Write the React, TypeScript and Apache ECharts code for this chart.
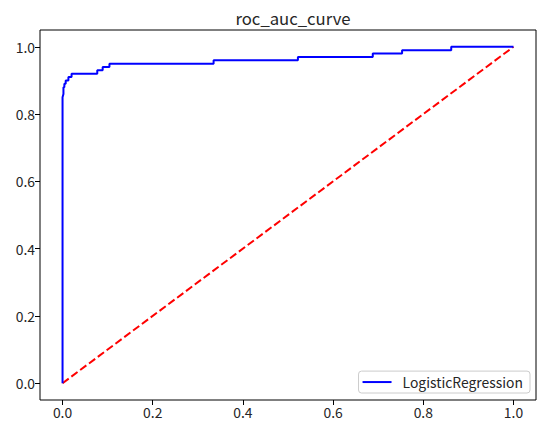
import React, { useEffect, useRef } from "react";
import * as echarts from "echarts";

const fpr = [0, 0, 0.002, 0.002, 0.004, 0.004, 0.007, 0.007, 0.013, 0.013, 0.02, 0.02, 0.077, 0.077, 0.089, 0.089, 0.104, 0.104, 0.335, 0.335, 0.522, 0.522, 0.688, 0.688, 0.753, 0.753, 0.862, 0.862, 1];
const tpr = [0, 0.85, 0.86, 0.88, 0.88, 0.89, 0.89, 0.9, 0.9, 0.91, 0.91, 0.92, 0.92, 0.93, 0.93, 0.94, 0.94, 0.95, 0.95, 0.96, 0.96, 0.97, 0.97, 0.98, 0.98, 0.99, 0.99, 1.0, 1.0];
const diagX = [0, 1];
const diagY = [0, 1];
const tickValues = [0, 0.2, 0.4, 0.6, 0.8, 1.0];
const titleText = "roc_auc_curve";
const seriesName = "LogisticRegression";

const FONT = "'Noto Sans CJK KR', 'Noto Sans', sans-serif";

export default function App() {
  const ref = useRef<HTMLDivElement>(null);
  useEffect(() => {
    document.body.style.margin = "0";
    if (!ref.current) return;
    const chart = echarts.init(ref.current, null, { renderer: "svg" });
    const axisCommon = {
      type: "value" as const,
      min: -0.05,
      max: 1.05,
      axisLine: { show: false, onZero: false },
      splitLine: { show: false },
      axisTick: {
        show: true,
        inside: false,
        length: 5,
        lineStyle: { color: "#000", width: 1 },
        customValues: tickValues,
      },
      axisLabel: {
        customValues: tickValues,
        formatter: (v: number) => v.toFixed(1),
        color: "#262626",
        fontSize: 13.9,
        fontFamily: FONT,
        margin: 5,
      },
    };
    chart.setOption({
      animation: false,
      backgroundColor: "#fff",
      title: {
        text: titleText,
        left: 288,
        textAlign: "center",
        top: 5,
        textStyle: { fontSize: 16.7, fontWeight: "normal", color: "#262626", fontFamily: FONT },
      },
      grid: {
        left: 40,
        right: 10,
        top: 30,
        bottom: 33,
        show: true,
        borderColor: "#000",
        borderWidth: 1,
        backgroundColor: "transparent",
      },
      legend: {
        data: [seriesName],
        right: 16,
        bottom: 40,
        icon: "rect",
        itemWidth: 29,
        itemHeight: 2,
        padding: [4, 7, 4, 4],
        borderColor: "#cccccc",
        borderWidth: 1,
        borderRadius: 3,
        backgroundColor: "rgba(255,255,255,0.8)",
        textStyle: { fontSize: 13.9, color: "#262626", fontFamily: FONT, padding: [0, 0, 0, 6] },
      },
      xAxis: axisCommon,
      yAxis: axisCommon,
      series: [
        {
          name: seriesName,
          type: "line",
          data: fpr.map((x, i) => [x, tpr[i]]),
          showSymbol: false,
          symbol: "none",
          lineStyle: { color: "#0000ff", width: 2 },
          itemStyle: { color: "#0000ff" },
          z: 3,
        },
        {
          name: "diagonal",
          type: "line",
          data: diagX.map((x, i) => [x, diagY[i]]),
          showSymbol: false,
          symbol: "none",
          lineStyle: { color: "#ff0000", width: 2, type: [7.7, 3.3] },
          itemStyle: { color: "#ff0000" },
          z: 2,
        },
      ],
    });
    return () => chart.dispose();
  }, []);
  return <div ref={ref} style={{ width: 546, height: 433 }} />;
}
